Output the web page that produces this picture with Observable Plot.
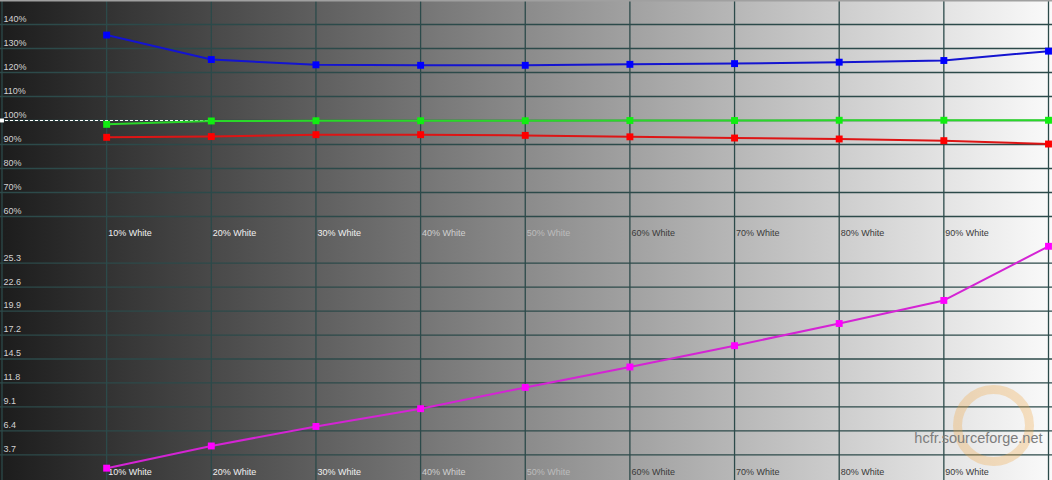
<!DOCTYPE html>
<html><head><meta charset="utf-8">
<script src="https://cdn.jsdelivr.net/npm/d3@7"></script>
<script src="https://cdn.jsdelivr.net/npm/@observablehq/plot@0.6"></script>
<style>
html,body{margin:0;padding:0;background:#fff;}
#chart{width:1052px;height:480px;background:linear-gradient(to right,#1c1c1c 0%,#fafafa 100%);overflow:hidden;}
#chart svg{display:block;background:transparent;}
</style></head><body><div id="chart"></div>
<script>
// ---- data ----
const levels = [10, 20, 30, 40, 50, 60, 70, 80, 90, 100];
const levelLabels = ["10% White","20% White","30% White","40% White","50% White","60% White","70% White","80% White","90% White"];
const redLevel   = [93.0, 93.3, 94.1, 94.1, 93.8, 93.2, 92.7, 92.3, 91.6, 90.2];
const greenLevel = [98.4, 99.8, 99.9, 99.9, 99.9, 100.0, 100.0, 100.1, 100.1, 100.1];
const blueLevel  = [135.6, 125.4, 123.2, 123.0, 123.0, 123.4, 123.7, 124.3, 125.0, 128.9];
const luminance  = [2.2, 4.7, 6.9, 8.9, 11.3, 13.6, 16.0, 18.5, 21.1, 27.2];
const rgbTicks = [60, 70, 80, 90, 100, 110, 120, 130, 140];
const lumTicks = [3.7, 6.4, 9.1, 11.8, 14.5, 17.2, 19.9, 22.6, 25.3];
const xGrid = [0, 10, 20, 30, 40, 50, 60, 70, 80, 90, 100];

// ---- styles ----
const W = 1052;
const grid = "#2c4a4a";
const font = "'Liberation Sans', Arial, sans-serif";
const labelFill = d => d <= 30 ? "#f0f0f0" : d === 40 ? "#cfcfcf" : d === 50 ? "#bcbcbc" : "#3a3a3a";
const xs = {domain: [0, 100], range: [1.5, 1048], axis: null};

const rows = (vals) => levels.map((l, i) => ({level: l, value: vals[i]}));
const series = (vals, lineColor, dotColor) => [
  Plot.line(rows(vals), {x: "level", y: "value", stroke: lineColor, strokeWidth: 2}),
  Plot.dot(rows(vals), {x: "level", y: "value", symbol: "square", fill: dotColor, r: 3.9})
];
const xLabels = (dy) => Plot.text(levels.slice(0, 9), {
  x: d => d, text: (d, i) => levelLabels[i], frameAnchor: "bottom", lineAnchor: "middle",
  textAnchor: "start", dx: 1.5, dy, fill: labelFill, fontSize: 9
});

const topChart = Plot.plot({
  width: W, height: 240, margin: 0,
  x: xs,
  y: {domain: [50, 150], range: [240, 0], axis: null},
  style: {background: "transparent", fontFamily: font},
  marks: [
    Plot.ruleY(rgbTicks, {stroke: grid, strokeWidth: 1.3}),
    Plot.ruleX(xGrid, {stroke: grid, strokeWidth: 1.3}),
    Plot.ruleY([150], {stroke: "#a0a0a0", strokeWidth: 2}),
    Plot.text(rgbTicks, {x: 0, y: d => d, text: d => d + "%", textAnchor: "start", lineAnchor: "middle", dx: 1.5, dy: -5, fill: "#d2d2d2", fontSize: 9}),
    xLabels(-7),
    Plot.ruleY([100], {stroke: "white", strokeDasharray: "3,2", strokeWidth: 1}),
    Plot.dot([100], {x: 0, y: d => d, symbol: "square", fill: "white", r: 2.2}),
    ...series(redLevel, "#dd1515", "#ff0000"),
    ...series(greenLevel, "#2ad82a", "#11ee11"),
    ...series(blueLevel, "#1414d0", "#0000ff")
  ]
});

const bottomChart = Plot.plot({
  width: W, height: 240, margin: 0,
  x: xs,
  y: {domain: [1, 28], range: [238.3, -1.3], axis: null},
  style: {background: "transparent", fontFamily: font},
  marks: [
    Plot.ruleY(lumTicks, {stroke: grid, strokeWidth: 1.3}),
    Plot.ruleX(xGrid, {stroke: grid, strokeWidth: 1.3}),
    Plot.dot([0], {frameAnchor: "bottom-right", dx: -59, dy: -55, r: 36, fill: "none", stroke: "#f2a640", strokeOpacity: 0.3, strokeWidth: 9}),
    Plot.text(["hcfr.sourceforge.net"], {frameAnchor: "bottom-right", textAnchor: "end", lineAnchor: "middle", dx: -10, dy: -42, fill: "#7d7d7d", fontSize: 14.5, text: d => d}),
    Plot.text(lumTicks, {x: 0, y: d => d, text: d => d.toFixed(1), textAnchor: "start", lineAnchor: "middle", dx: 1.5, dy: -5.5, fill: "#d2d2d2", fontSize: 9}),
    xLabels(-8),
    ...series(luminance, "#d424d4", "#ff00ff")
  ]
});

const el = document.getElementById("chart");
el.appendChild(topChart);
el.appendChild(bottomChart);
</script>
</body></html>
